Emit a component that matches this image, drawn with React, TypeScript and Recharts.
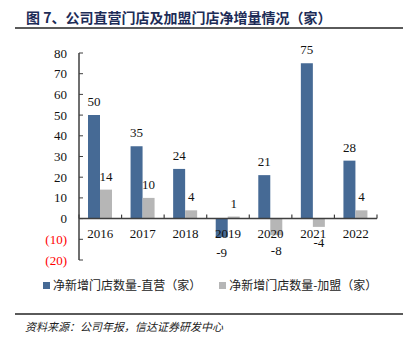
import { BarChart, Bar, XAxis, YAxis, ReferenceLine, LabelList } from 'recharts';

const years = ['2016', '2017', '2018', '2019', '2020', '2021', '2022'];
const directStores = [50, 35, 24, -9, 21, 75, 28];
const franchiseStores = [14, 10, 4, 1, -8, -4, 4];
const yTicks = [-20, -10, 0, 10, 20, 30, 40, 50, 60, 70, 80];

const data = years.map((year, i) => ({
  year,
  direct: directStores[i],
  franchise: franchiseStores[i],
}));

const CHART_W = 410;
const CHART_H = 300;
const X_AXIS_H = 40;
const MARGIN = { top: 53, right: 33, bottom: 0, left: 0 };
const Y_MIN = -20;
const Y_MAX = 80;
const PLOT_H = CHART_H - MARGIN.top - MARGIN.bottom - X_AXIS_H;
const PLOT_W = CHART_W - MARGIN.left - MARGIN.right - 79;
// distance of the zero line above the bottom of the plot
const ZERO_OFFSET = ((0 - Y_MIN) / (Y_MAX - Y_MIN)) * PLOT_H;

const AXIS = '#3f3f3f';
const BLUE = '#466a95';
const GRAY = '#b6b6b6';
const SERIF = '"Liberation Serif", "Times New Roman", serif';
const CJK = '"Noto Sans CJK SC", sans-serif';

const YTick = (props: any) => {
  const { x, y, payload } = props;
  const v = payload.value as number;
  const label = v < 0 ? `(${Math.abs(v)})` : String(v);
  return (
    <g>
      <line x1={x + 12} x2={x + 16} y1={y} y2={y} stroke={AXIS} strokeWidth={1} />
      <text
        x={x}
        y={y}
        dy="0.35em"
        textAnchor="end"
        fontFamily={SERIF}
        fontSize={13}
        fill={v < 0 ? '#ff0000' : '#111'}
      >
        {label}
      </text>
    </g>
  );
};

const YearTick = (props: any) => {
  const { x, y, payload, index } = props;
  const zeroY = y - ZERO_OFFSET;
  const half = payload.offset || PLOT_W / years.length / 2;
  return (
    <g>
      <line x1={x - half} x2={x - half} y1={zeroY - 4} y2={zeroY} stroke={AXIS} strokeWidth={1.2} />
      {index === years.length - 1 && (
        <line x1={x + half} x2={x + half} y1={zeroY - 4} y2={zeroY} stroke={AXIS} strokeWidth={1.2} />
      )}
      <text x={x} y={zeroY + 19.5} textAnchor="middle" fontFamily={SERIF} fontSize={13} fill="#111">
        {payload.value}
      </text>
    </g>
  );
};

const ValueLabel = (props: any) => {
  const { x, y, width, height, value } = props;
  const top = Math.min(y, y + height);
  const bottom = Math.max(y, y + height);
  const ty = value < 0 ? bottom + 20 : top - 9;
  return (
    <text x={x + width / 2} y={ty} textAnchor="middle" fontFamily={SERIF} fontSize={13} fill="#111">
      {value}
    </text>
  );
};

export default function App() {
  return (
    <div
      style={{
        position: 'absolute',
        left: 0,
        top: 0,
        width: 410,
        height: 344,
        background: '#fff',
        overflow: 'hidden',
      }}
    >
      <div
        style={{
          position: 'absolute',
          left: 26,
          top: 7,
          fontFamily: CJK,
          fontWeight: 700,
          fontSize: 14,
          lineHeight: '20px',
          color: '#1d2c57',
          whiteSpace: 'nowrap',
        }}
      >
        图 7、公司直营门店及加盟门店净增量情况（家）
      </div>
      <div style={{ position: 'absolute', left: 15, top: 27, width: 388, height: 2, background: '#5a5a5a' }} />

      <div style={{ position: 'absolute', left: 0, top: 0 }}>
        <BarChart width={CHART_W} height={CHART_H} data={data} margin={MARGIN} barGap={0}>
          <XAxis
            dataKey="year"
            height={X_AXIS_H}
            axisLine={false}
            tickLine={false}
            tickSize={0}
            tickMargin={0}
            interval={0}
            tick={<YearTick />}
          />
          <YAxis
            width={79}
            domain={[Y_MIN, Y_MAX]}
            ticks={yTicks}
            interval={0}
            axisLine={{ stroke: AXIS, strokeWidth: 1.5 }}
            tickLine={false}
            tickSize={0}
            tickMargin={12}
            tick={<YTick />}
          />
          <ReferenceLine y={0} stroke={AXIS} strokeWidth={1.5} />
          <Bar dataKey="direct" fill={BLUE} barSize={12} isAnimationActive={false}>
            <LabelList dataKey="direct" content={<ValueLabel />} />
          </Bar>
          <Bar dataKey="franchise" fill={GRAY} barSize={12} isAnimationActive={false}>
            <LabelList dataKey="franchise" content={<ValueLabel />} />
          </Bar>
        </BarChart>
      </div>

      <div
        style={{
          position: 'absolute',
          left: 43,
          top: 277,
          display: 'flex',
          alignItems: 'center',
          fontFamily: CJK,
          fontSize: 12,
          lineHeight: '16px',
          color: '#222',
          whiteSpace: 'nowrap',
        }}
      >
        <span style={{ width: 7, height: 7, background: BLUE, marginRight: 3 }} />
        <span>净新增门店数量-直营（家）</span>
        <span style={{ width: 7, height: 7, background: GRAY, marginLeft: 18, marginRight: 3 }} />
        <span>净新增门店数量-加盟（家）</span>
      </div>

      <div style={{ position: 'absolute', left: 15, top: 313, width: 388, height: 2, background: '#5a5a5a' }} />
      <div
        style={{
          position: 'absolute',
          left: 25,
          top: 318,
          fontFamily: CJK,
          fontStyle: 'italic',
          fontSize: 11,
          lineHeight: '16px',
          color: '#222',
          whiteSpace: 'nowrap',
        }}
      >
        资料来源：公司年报，信达证券研发中心
      </div>
    </div>
  );
}
